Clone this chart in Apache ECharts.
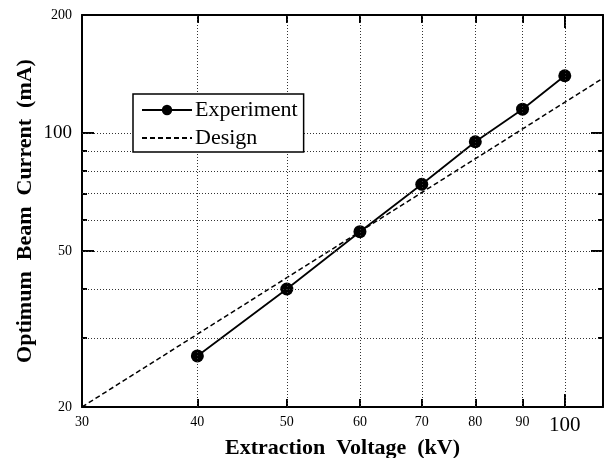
<!DOCTYPE html>
<html>
<head>
<meta charset="utf-8">
<script src="https://cdn.jsdelivr.net/npm/echarts@6/dist/echarts.min.js"></script>
<style>
html, body { margin: 0; padding: 0; background: #fff; }
#chart { width: 607px; height: 458px; }
</style>
</head>
<body>
<div id="chart"></div>
<script>
// values
var voltage = [40, 50, 60, 70, 80, 90, 100];
var experiment = [27, 40, 56, 74, 95, 115, 140];
var designVoltage = [30, 110];
var designCurrent = [20, 138];

var xLabels = [30, 40, 50, 60, 70, 80, 90, 100];
var yLabels = [20, 50, 100, 200];
var xGrid = [40, 50, 60, 70, 80, 90, 100];
var yGrid = [30, 40, 50, 60, 70, 80, 90, 100];
var xShortTicks = [40, 50, 60, 70, 80, 90];
var xLongTicks = [100];
var yShortTicks = [30, 40, 60, 70, 80, 90];
var yLongTicks = [50, 100];

var serif = "'Liberation Serif', 'Times New Roman', serif";

function xAxisOf (pos, ticks, len, withLabels, withLine) {
    return {
        type: 'log', logBase: 10, min: 30, max: 110, position: pos,
        axisLine: { show: withLine, lineStyle: { color: '#000', width: 2 } },
        axisTick: { show: true, inside: true, length: len, customValues: ticks, lineStyle: { color: '#000', width: 2 } },
        axisLabel: withLabels ? {
            show: true, customValues: xLabels, margin: 8,
            formatter: function (v) { return v == 100 ? '{b|100}' : '{s|' + v + '}'; },
            rich: {
                s: { fontFamily: serif, fontSize: 14, color: '#000' },
                b: { fontFamily: serif, fontSize: 21, color: '#000' }
            }
        } : { show: false },
        splitLine: { show: false },
        minorTick: { show: false }
    };
}

function yAxisOf (pos, ticks, len, withLabels, withLine) {
    return {
        type: 'log', logBase: 10, min: 20, max: 200, position: pos,
        axisLine: { show: withLine, lineStyle: { color: '#000', width: 2 } },
        axisTick: { show: true, inside: true, length: len, customValues: ticks, lineStyle: { color: '#000', width: 2 } },
        axisLabel: withLabels ? {
            show: true, customValues: yLabels, margin: 10,
            formatter: function (v) { return v == 100 ? '{b|100}' : '{s|' + v + '}'; },
            rich: {
                s: { fontFamily: serif, fontSize: 14, color: '#000' },
                b: { fontFamily: serif, fontSize: 19, color: '#000' }
            }
        } : { show: false },
        splitLine: { show: false },
        minorTick: { show: false }
    };
}

var xAxes = [
    xAxisOf('bottom', xShortTicks, 8, true, true),
    xAxisOf('top', xShortTicks, 8, false, true),
    xAxisOf('bottom', xLongTicks, 13, false, false),
    xAxisOf('top', xLongTicks, 13, false, false)
];
xAxes[0].name = 'Extraction  Voltage  (kV)';
xAxes[0].nameLocation = 'middle';
xAxes[0].nameGap = 30;
xAxes[0].nameMoveOverlap = false;
xAxes[0].nameTextStyle = { fontFamily: serif, fontSize: 22, fontWeight: 'bold', color: '#000' };

var yAxes = [
    yAxisOf('left', yShortTicks, 5, true, true),
    yAxisOf('right', yShortTicks, 5, false, true),
    yAxisOf('left', yLongTicks, 12, false, false),
    yAxisOf('right', yLongTicks, 12, false, false)
];
yAxes[0].name = 'Optimum  Beam  Current  (mA)';
yAxes[0].nameLocation = 'middle';
yAxes[0].nameGap = 46;
yAxes[0].nameMoveOverlap = false;
yAxes[0].nameTextStyle = { fontFamily: serif, fontSize: 22, fontWeight: 'bold', color: '#000' };

var gridLines = [];
xGrid.forEach(function (v) { gridLines.push({ xAxis: v }); });
yGrid.forEach(function (v) { gridLines.push({ yAxis: v }); });

var chart = echarts.init(document.getElementById('chart'));
chart.setOption({
    animation: false,
    backgroundColor: '#fff',
    grid: { left: 82, right: 4, top: 15, bottom: 51, containLabel: false, outerBoundsMode: 'none' },
    legend: {
        orient: 'vertical',
        left: 133, top: 94,
        data: [
            { name: 'Experiment' },
            { name: 'Design', itemStyle: { opacity: 0 } }
        ],
        itemWidth: 50, itemHeight: 13, itemGap: 6,
        padding: [5, 6, 3, 8],
        backgroundColor: '#fff',
        borderColor: '#000', borderWidth: 1.5, borderRadius: 0,
        textStyle: { fontFamily: serif, fontSize: 22, color: '#000', padding: [0, 0, 0, -2] },
        z: 10
    },
    xAxis: xAxes,
    yAxis: yAxes,
    series: [
        {
            name: 'grid', type: 'line', data: [], z: 1, silent: true,
            markLine: {
                silent: true, symbol: 'none', label: { show: false },
                lineStyle: { color: '#333', width: 1, type: [1, 2] },
                data: gridLines
            }
        },
        {
            name: 'Design', type: 'line', z: 3,
            data: designVoltage.map(function (v, i) { return [v, designCurrent[i]]; }),
            symbol: 'none',
            itemStyle: { color: '#000' },
            lineStyle: { color: '#000', width: 1.5, type: [5, 3] }
        },
        {
            name: 'Experiment', type: 'line', z: 4,
            data: voltage.map(function (v, i) { return [v, experiment[i]]; }),
            symbol: 'circle', symbolSize: 13,
            itemStyle: { color: '#000' },
            lineStyle: { color: '#000', width: 1.8 }
        }
    ]
});
</script>
</body>
</html>
